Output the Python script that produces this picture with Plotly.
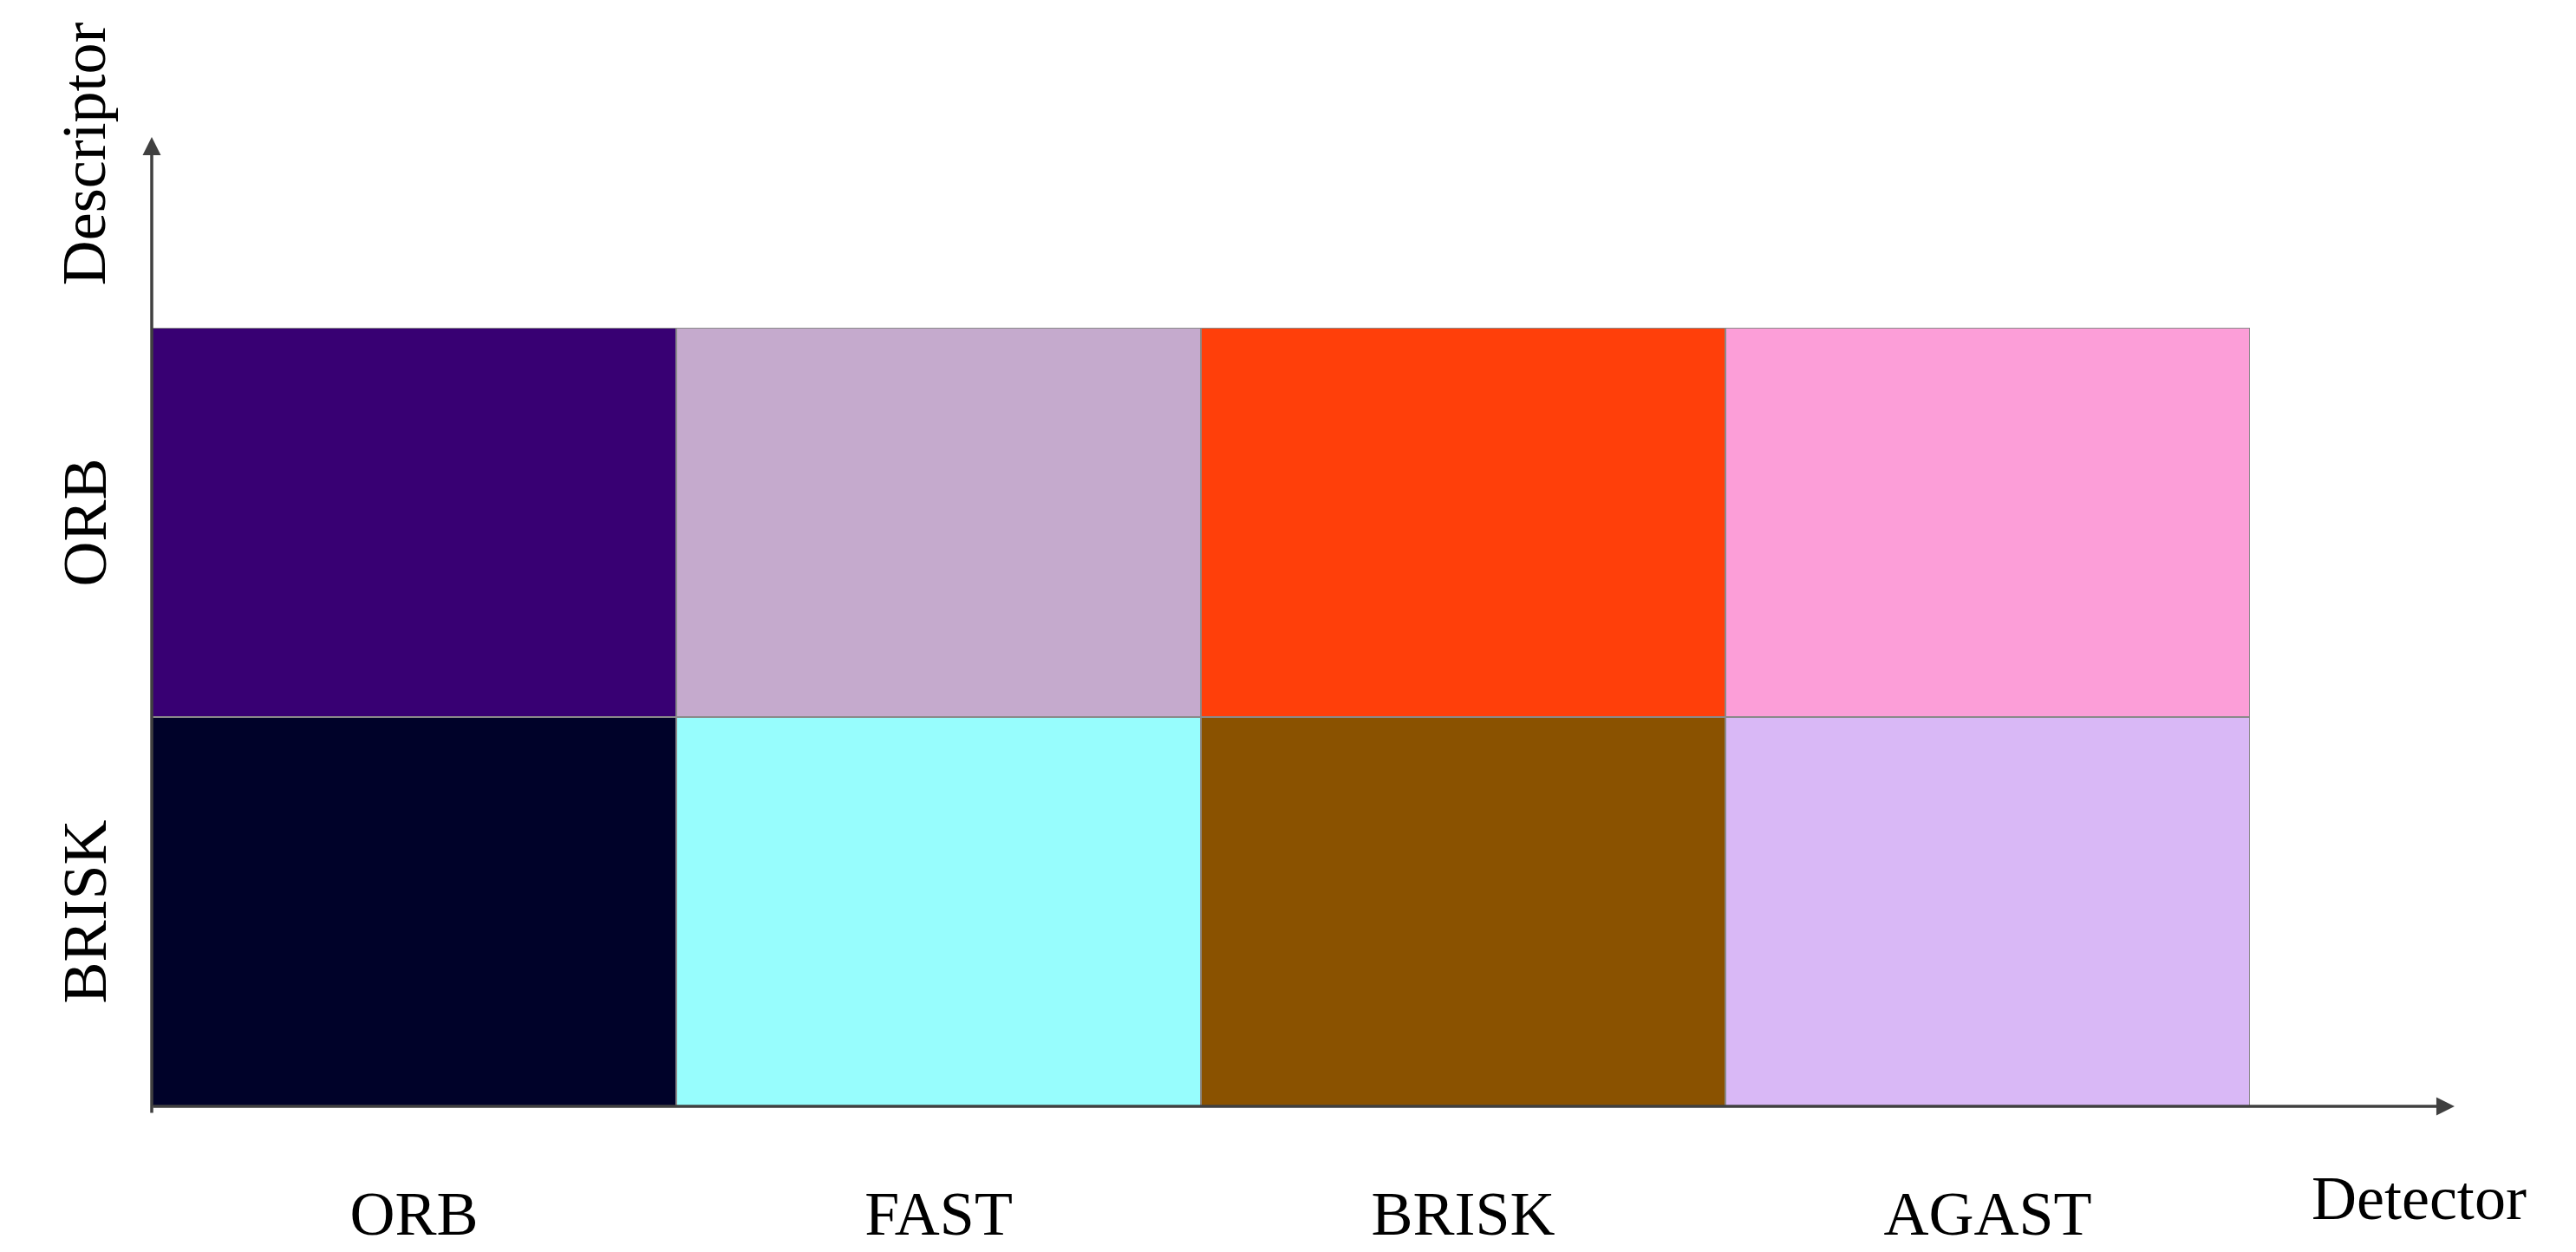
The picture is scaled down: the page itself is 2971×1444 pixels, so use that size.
import plotly.graph_objects as go

detectors = ['ORB', 'FAST', 'BRISK', 'AGAST']
descriptors = ['BRISK', 'ORB']  # bottom to top
cell_colors = {
    'BRISK': ['#000229', '#97fdfd', '#8a5200', '#d9b8f6'],
    'ORB': ['#380073', '#c5aacd', '#ff3f0a', '#fc9ed8'],
}

SERIF = 'Liberation Serif'
FS = 72

fig = go.Figure()
for d in descriptors:
    fig.add_trace(go.Bar(
        x=list(range(len(detectors))),
        y=[1] * len(detectors),
        width=1,
        marker=dict(color=cell_colors[d], line=dict(color='#8a8a8a', width=1.5)),
        name=d,
        showlegend=False,
        hoverinfo='skip',
    ))

fig.update_layout(
    barmode='stack',
    width=2971, height=1444,
    margin=dict(l=167, r=384, t=370, b=169),
    plot_bgcolor='white', paper_bgcolor='white',
    xaxis=dict(range=[-0.5, 3.5], showgrid=False, zeroline=False,
               tickvals=list(range(len(detectors))), ticktext=detectors,
               ticks='', ticklabelstandoff=75,
               tickfont=dict(family=SERIF, size=FS, color='black')),
    yaxis=dict(range=[0, 2], showgrid=False, zeroline=False,
               showticklabels=False, ticks=''),
)

# row labels (rotated)
for i, d in enumerate(descriptors):
    fig.add_annotation(x=0, y=i + 0.5, xref='paper', yref='y',
                       xshift=-120, text=d, textangle=-90, showarrow=False,
                       font=dict(family=SERIF, size=FS, color='black'))

fig.add_annotation(x=0, y=1.395, xref='paper', yref='paper', xshift=-120,
                   yanchor='top', text='Descriptor', textangle=-90, showarrow=False,
                   font=dict(family=SERIF, size=FS, color='black'))
fig.add_annotation(x=1.0975, y=0, xref='paper', yref='paper',
                   xshift=85, yshift=-148,
                   text='Detector', showarrow=False,
                   font=dict(family=SERIF, size=FS, color='black'))

# axis arrows
fig.add_annotation(x=1.0975, y=0, xref='paper', yref='paper', ax=-2656, ay=0,
                   text='', showarrow=True, arrowhead=2, arrowsize=1.2,
                   arrowwidth=3.5, arrowcolor='#404040')
fig.add_annotation(x=0, y=1.245, xref='paper', yref='paper', ax=0, ay=1127,
                   text='', showarrow=True, arrowhead=2, arrowsize=1.2,
                   arrowwidth=3.5, arrowcolor='#404040')

fig.write_html('out.html')
